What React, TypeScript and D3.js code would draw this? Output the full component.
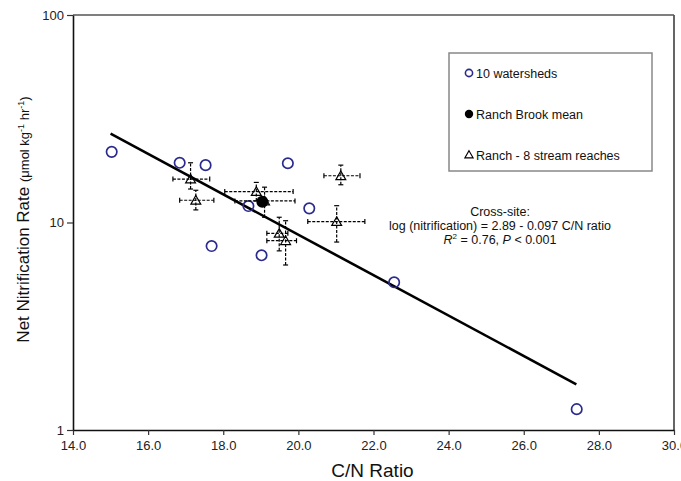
import React, { useRef, useEffect } from "react";
import * as d3 from "d3";

// 10 watersheds (open circles)
const watershedCN = [15.03, 16.84, 17.53, 17.69, 18.67, 19.02, 19.72, 20.29, 22.55, 27.41];
const watershedRate = [21.9, 19.4, 18.9, 7.7, 12.0, 6.95, 19.3, 11.7, 5.15, 1.26];

// Ranch Brook mean (filled circle)
const meanCN = [19.04];
const meanRate = [12.6];

// Ranch Brook - 8 stream reaches (triangles, with error bars)
const reachCN = [17.13, 17.27, 18.88, 19.1, 19.49, 19.66, 21.02, 21.13];
const reachRate = [16.2, 12.8, 14.1, 12.7, 8.87, 8.17, 10.1, 16.8];
const reachCNLo = [16.66, 16.84, 18.04, 18.31, 19.16, 19.16, 20.25, 20.68];
const reachCNHi = [17.64, 17.75, 19.86, 19.91, 19.72, 19.95, 21.77, 21.64];
const reachRateLo = [14.5, 11.5, 12.7, 10.6, 7.3, 6.24, 8.05, 15.2];
const reachRateHi = [19.4, 14.3, 15.6, 14.8, 10.6, 10.2, 12.05, 18.9];

// cross-site regression line end points
const fitCN = [15.0, 27.4];
const fitRate = [26.8, 1.66];

const xTicks = [14, 16, 18, 20, 22, 24, 26, 28, 30];
const yTicks = [1, 10, 100];

const legendLabels = ["10 watersheds", "Ranch Brook mean", "Ranch - 8 stream reaches"];

const FONT = "'Liberation Sans', Arial, sans-serif";
const BLUE = "#2b2b8f";

export default function App() {
  const svgRef = useRef<SVGSVGElement>(null);

  useEffect(() => {
    document.body.style.margin = "0";
    if (!svgRef.current) return;
    const width = 681;
    const height = 481;
    const left = 73, right = 674, top = 15, bottom = 430;

    d3.select(svgRef.current).selectAll("*").remove();
    const svg = d3.select(svgRef.current).attr("width", width).attr("height", height);

    svg.append("rect").attr("width", width).attr("height", height).attr("fill", "white");

    const x = d3.scaleLinear().domain([14, 30]).range([left, right]);
    const y = d3.scaleLog().domain([1, 100]).range([bottom, top]);

    // frame
    svg.append("line").attr("x1", left).attr("x2", right).attr("y1", top).attr("y2", top)
      .attr("stroke", "#555").attr("stroke-width", 1.5);
    svg.append("line").attr("x1", right).attr("x2", right).attr("y1", top).attr("y2", bottom)
      .attr("stroke", "#555").attr("stroke-width", 1.8);

    // axes
    const xAxis = svg.append("g").attr("transform", `translate(0,${bottom})`)
      .call(d3.axisBottom(x).tickValues(xTicks).tickFormat(d3.format(".1f")).tickSize(5).tickSizeOuter(0));
    const yAxis = svg.append("g").attr("transform", `translate(${left},0)`)
      .call(d3.axisLeft(y).tickValues(yTicks).tickFormat(d3.format("d")).tickSize(6).tickSizeOuter(0));
    [xAxis, yAxis].forEach((a) => {
      a.select(".domain").attr("stroke", "#111").attr("stroke-width", 1.6);
      a.selectAll(".tick line").attr("stroke", "#333").attr("stroke-width", 1.2);
      a.selectAll(".tick text").attr("font-family", FONT).attr("font-size", 13).attr("fill", "#222");
    });
    xAxis.selectAll(".tick text").attr("dy", "0.95em");
    yAxis.selectAll(".tick text").attr("x", -9);

    // axis titles
    svg.append("text").attr("x", (left + right) / 2 - 1).attr("y", 477)
      .attr("text-anchor", "middle").attr("font-family", FONT).attr("font-size", 19).attr("fill", "#111")
      .text("C/N Ratio");

    const yt = svg.append("text").attr("transform", `translate(29,${(top + bottom) / 2 - 3}) rotate(-90)`)
      .attr("text-anchor", "middle").attr("font-family", FONT).attr("fill", "#111");
    yt.append("tspan").attr("font-size", 17).text("Net Nitrification Rate ");
    yt.append("tspan").attr("font-size", 13).text("(μmol kg");
    yt.append("tspan").attr("font-size", 9).attr("dy", -5).text("-1");
    yt.append("tspan").attr("font-size", 13).attr("dy", 5).text(" hr");
    yt.append("tspan").attr("font-size", 9).attr("dy", -5).text("-1");
    yt.append("tspan").attr("font-size", 13).attr("dy", 5).text(")");

    // regression line
    const line = d3.line<number>().x((d, i) => x(fitCN[i])).y((d) => y(d));
    svg.append("path").attr("d", line(fitRate) || "").attr("fill", "none")
      .attr("stroke", "#000").attr("stroke-width", 2.6);

    // watersheds
    svg.append("g").selectAll("circle").data(watershedCN).join("circle")
      .attr("cx", (d) => x(d)).attr("cy", (d, i) => y(watershedRate[i])).attr("r", 5.2)
      .attr("fill", "none").attr("stroke", BLUE).attr("stroke-width", 1.7);

    // reaches: triangles then error bars on top
    const tri = d3.symbol().type(d3.symbolTriangle).size(42);
    const reaches = svg.append("g");
    reaches.selectAll("path.tri").data(reachCN).join("path").attr("class", "tri")
      .attr("d", tri() || "")
      .attr("transform", (d, i) => `translate(${x(d)},${y(reachRate[i]) + 1})`)
      .attr("fill", "none").attr("stroke", "#000").attr("stroke-width", 1.2);

    const bars = svg.append("g").attr("stroke", "#000").attr("stroke-width", 1.2);
    reachCN.forEach((c, i) => {
      const cx = x(c), cy = y(reachRate[i]);
      const x0 = x(reachCNLo[i]), x1 = x(reachCNHi[i]);
      const y0 = y(reachRateLo[i]), y1 = y(reachRateHi[i]);
      bars.append("line").attr("x1", x0).attr("x2", x1).attr("y1", cy).attr("y2", cy)
        .attr("stroke-dasharray", "3,1.5");
      bars.append("line").attr("x1", cx).attr("x2", cx).attr("y1", y0).attr("y2", y1)
        .attr("stroke-dasharray", "3,1.5");
      [x0, x1].forEach((xx) => bars.append("line").attr("x1", xx).attr("x2", xx).attr("y1", cy - 2.5).attr("y2", cy + 2.5));
      [y0, y1].forEach((yy) => bars.append("line").attr("x1", cx - 2.5).attr("x2", cx + 2.5).attr("y1", yy).attr("y2", yy));
    });

    // Ranch Brook mean
    svg.append("g").selectAll("circle").data(meanCN).join("circle")
      .attr("cx", (d) => x(d)).attr("cy", (d, i) => y(meanRate[i])).attr("r", 6)
      .attr("fill", "#000");

    // legend
    const lg = svg.append("g");
    lg.append("rect").attr("x", 449).attr("y", 53).attr("width", 203).attr("height", 118)
      .attr("fill", "white").attr("stroke", "#888").attr("stroke-width", 1.5);
    const rows = [73, 114, 155];
    lg.append("circle").attr("cx", 469).attr("cy", rows[0]).attr("r", 3.6)
      .attr("fill", "none").attr("stroke", BLUE).attr("stroke-width", 1.6);
    lg.append("circle").attr("cx", 469).attr("cy", rows[1]).attr("r", 4.2).attr("fill", "#000");
    lg.append("path").attr("d", d3.symbol().type(d3.symbolTriangle).size(30)() || "")
      .attr("transform", `translate(469,${rows[2] + 0.5})`)
      .attr("fill", "none").attr("stroke", "#000").attr("stroke-width", 1.1);
    lg.selectAll("text").data(legendLabels).join("text")
      .attr("x", 476).attr("y", (d, i) => rows[i] + 4.5)
      .attr("font-family", FONT).attr("font-size", 12.5).attr("fill", "#111")
      .text((d) => d);

    // annotation
    const ann = svg.append("g").attr("font-family", FONT).attr("font-size", 12.5).attr("fill", "#111")
      .attr("text-anchor", "middle");
    ann.append("text").attr("x", 500).attr("y", 216).text("Cross-site:");
    ann.append("text").attr("x", 500).attr("y", 230).text("log (nitrification) = 2.89 - 0.097 C/N ratio");
    const r2 = ann.append("text").attr("x", 500).attr("y", 244);
    r2.append("tspan").attr("font-style", "italic").text("R");
    r2.append("tspan").attr("font-size", 8).attr("dy", -5).text("2");
    r2.append("tspan").attr("dy", 5).text(" = 0.76, ");
    r2.append("tspan").attr("font-style", "italic").text("P");
    r2.append("tspan").text(" < 0.001");
  }, []);

  return <svg ref={svgRef} style={{ display: "block" }}></svg>;
}
